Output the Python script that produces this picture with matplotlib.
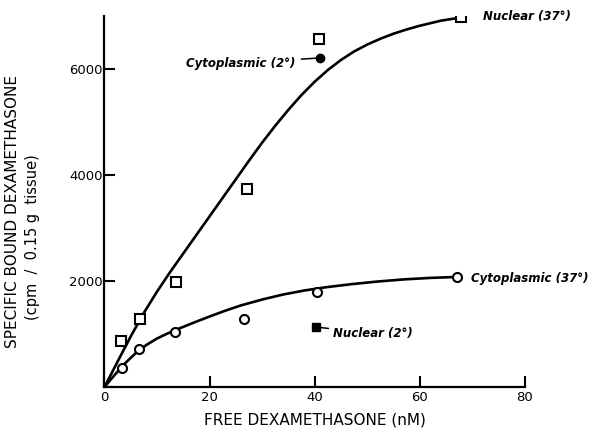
import matplotlib
matplotlib.use("Agg")
import matplotlib.pyplot as plt

# measured points
nuc37_x = [3.2, 6.7, 13.6, 27.1, 40.8, 67.8]
nuc37_y = [868, 1283, 1981, 3736, 6567, 6982]
cyt37_x = [3.3, 6.6, 13.4, 26.5, 40.4, 67.0]
cyt37_y = [359, 717, 1038, 1283, 1793, 2076]
cyt2_x = [41.0]
cyt2_y = [6208]
nuc2_x = [40.2]
nuc2_y = [1132]

# hand-drawn fitted curves
upper_x = [0, 2.5, 5, 7.5, 10, 12.5, 15, 17.5, 20, 22.5, 25, 27.5, 30, 32.5, 35, 37.5,
           40, 42.5, 45, 47.5, 50, 52.5, 55, 57.5, 60, 64, 67.8]
upper_y = [0, 480, 955, 1400, 1800, 2170, 2520, 2870, 3220, 3570, 3920, 4270, 4610,
           4930, 5230, 5510, 5760, 5980, 6170, 6330, 6460, 6570, 6665, 6745, 6815,
           6910, 6970]
lower_x = [0, 2, 4, 6, 8, 10, 12, 14, 17, 20, 23, 26, 30, 34, 38, 42, 47, 52, 57, 62, 67]
lower_y = [0, 235, 455, 645, 795, 915, 1010, 1095, 1215, 1330, 1440, 1540, 1650, 1745,
           1820, 1880, 1940, 1990, 2030, 2058, 2076]

xticks = [0, 20, 40, 60, 80]
yticks = [0, 2000, 4000, 6000]
ytick_labels = ["", "2000", "4000", "6000"]

fig = plt.figure(figsize=(5.95, 4.28), dpi=100)
ax = fig.add_axes([0.1756, 0.0958, 0.7067, 0.867])

for cx, cy in [(upper_x, upper_y), (lower_x, lower_y)]:
    ax.plot(cx, cy, color="black", lw=1.9, solid_capstyle="round",
            solid_joinstyle="round")

ax.plot(nuc37_x, nuc37_y, "s", ms=6.5, mfc="white", mec="black", mew=1.5, zorder=3)
ax.plot(cyt37_x, cyt37_y, "o", ms=6.5, mfc="white", mec="black", mew=1.5, zorder=3)
ax.plot(cyt2_x, cyt2_y, "o", ms=6, color="black", zorder=3)
ax.plot(nuc2_x, nuc2_y, "s", ms=5.5, color="black", zorder=3)

lab = dict(fontsize=8.5, style="italic", fontweight="bold", va="center")
ax.text(72.0, 6980, "Nuclear (37°)", ha="left", **lab)
ax.text(69.7, 2038, "Cytoplasmic (37°)", ha="left", **lab)
ax.annotate("Cytoplasmic (2°)", xy=(cyt2_x[0], cyt2_y[0]), xytext=(36.4, 6110),
            ha="right", arrowprops=dict(arrowstyle="-", lw=1.1, shrinkA=2, shrinkB=3),
            **lab)
ax.annotate("Nuclear (2°)", xy=(nuc2_x[0], nuc2_y[0]), xytext=(43.4, 1010),
            ha="left", arrowprops=dict(arrowstyle="-", lw=1.1, shrinkA=1, shrinkB=3),
            **lab)

ax.set_xlim(0, 80)
ax.set_ylim(0, 7000)
ax.set_xticks(xticks)
ax.set_yticks(yticks)
ax.set_yticklabels(ytick_labels)
for s in ["top", "right"]:
    ax.spines[s].set_visible(False)
for s in ["left", "bottom"]:
    ax.spines[s].set_linewidth(1.6)
ax.tick_params(direction="in", length=8, width=1.5, labelsize=9.5, pad=3)
ax.tick_params(axis="y", pad=1)

ax.set_xlabel("FREE DEXAMETHASONE (nM)", fontsize=11, labelpad=6)
fig.text(0.021, 1 - 212 / 428, "SPECIFIC BOUND DEXAMETHASONE", rotation=90,
         ha="center", va="center", fontsize=11)
fig.text(0.055, 1 - 237 / 428, "(cpm  /  0.15 g  tissue)", rotation=90,
         ha="center", va="center", fontsize=10.5)

fig.savefig("out.png", dpi=100)
